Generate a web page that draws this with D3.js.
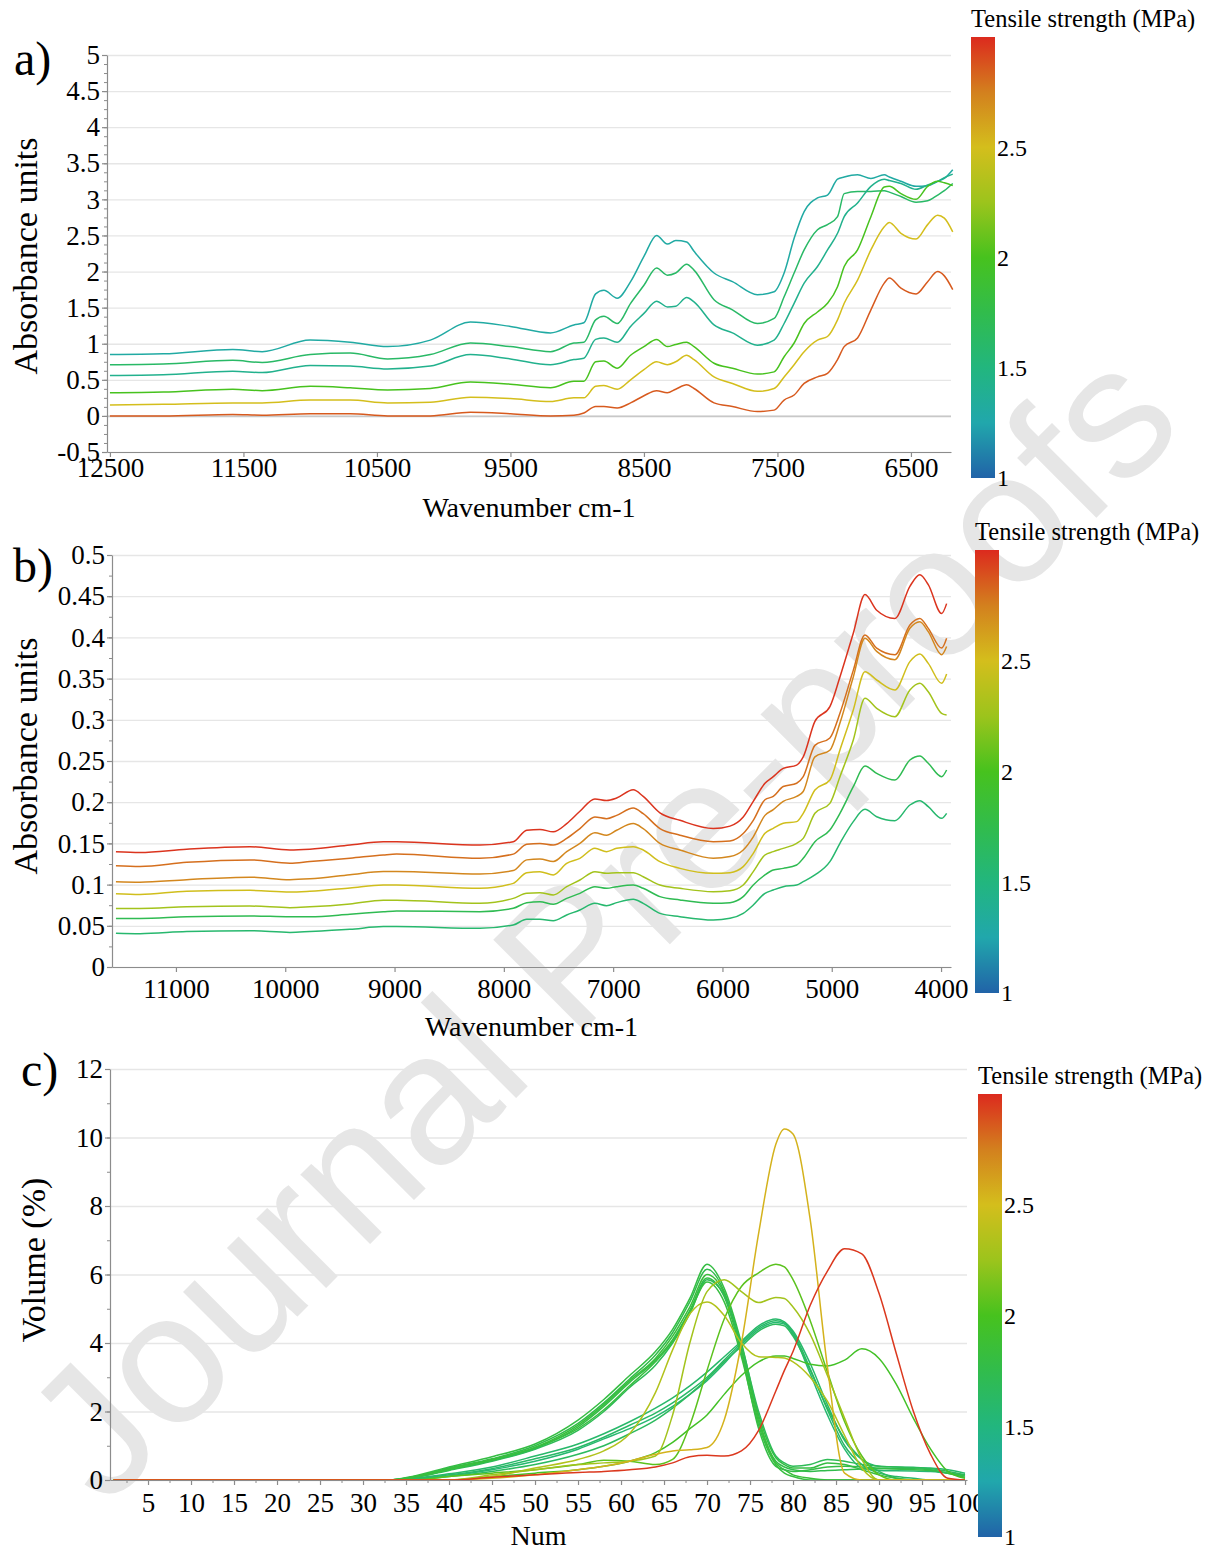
<!DOCTYPE html>
<html><head><meta charset="utf-8">
<script src="https://cdn.jsdelivr.net/npm/d3@7"></script>
<style>
body{margin:0;background:#fff}
svg{display:block}
text{font-family:"Liberation Serif","Times New Roman",serif;fill:#000}
</style>
</head><body>
<svg id="chart" width="1215" height="1550"></svg>
<script>
// ---------------- DATA ----------------
// Panel a) NIR spectra (wavenumber cm-1 vs absorbance units)
const wavenumberA = [12500,12100,11580,11360,11000,10700,10420,10100,9800,9500,
  9200,9025,8950,8862,8800,8700,8600,8500,8405,8325,8262,8180,8125,7975,7837,7650,7525,7450,7375,7300,
  7200,7125,7050,7000,6900,6800,6700,6662,6575,6462,6375,6300,6250,6187];
const tensileA = [1.3, 1.62, 1.42, 2.0, 2.5, 2.86];
const absA1 = [0.85,0.86,0.92,0.89,1.05,1.02,0.96,1.05,1.30,1.24,
  1.15,1.26,1.29,1.69,1.74,1.63,1.86,2.21,2.50,2.38,2.43,2.41,2.28,1.98,1.86,1.68,1.72,1.98,2.46,2.83,
  3.02,3.06,3.28,3.31,3.34,3.29,3.34,3.31,3.25,3.18,3.19,3.25,3.29,3.41];
const absA2 = [0.71,0.72,0.77,0.74,0.85,0.87,0.79,0.85,1.01,0.96,
  0.89,1.01,1.02,1.33,1.38,1.28,1.56,1.81,2.05,1.95,1.98,2.10,2.02,1.61,1.47,1.28,1.35,1.65,1.98,2.30,
  2.58,2.65,2.76,3.08,3.11,3.11,3.12,3.10,3.04,2.96,2.98,3.06,3.12,3.22];
const absA3 = [0.56,0.57,0.62,0.60,0.70,0.69,0.65,0.69,0.85,0.79,
  0.71,0.78,0.80,1.06,1.08,1.02,1.24,1.42,1.59,1.51,1.52,1.64,1.58,1.26,1.15,0.98,1.05,1.28,1.56,1.84,
  2.07,2.30,2.53,2.76,2.95,3.18,3.28,3.26,3.22,3.14,3.20,3.25,3.30,3.35];
const absA4 = [0.32,0.33,0.37,0.35,0.41,0.39,0.36,0.38,0.47,0.44,
  0.39,0.48,0.48,0.75,0.76,0.66,0.84,0.96,1.06,0.96,0.99,1.02,0.96,0.73,0.66,0.58,0.61,0.82,1.01,1.28,
  1.44,1.56,1.79,2.07,2.30,2.76,3.17,3.18,3.08,3.00,3.18,3.25,3.23,3.19];
const absA5 = [0.15,0.16,0.18,0.18,0.22,0.22,0.18,0.19,0.26,0.24,
  0.20,0.25,0.25,0.41,0.42,0.37,0.50,0.64,0.75,0.71,0.75,0.84,0.78,0.54,0.45,0.34,0.38,0.54,0.71,0.89,
  1.05,1.10,1.33,1.56,1.88,2.30,2.62,2.68,2.53,2.45,2.65,2.78,2.74,2.55];
const absA6 = [0.0,0.0,0.02,0.01,0.03,0.03,0.0,0.0,0.05,0.03,
  0.0,0.01,0.04,0.13,0.13,0.11,0.18,0.28,0.35,0.32,0.37,0.43,0.38,0.18,0.13,0.06,0.08,0.22,0.29,0.45,
  0.54,0.59,0.78,0.96,1.08,1.47,1.84,1.91,1.77,1.69,1.86,2.00,1.94,1.75];
const xTicksA = [12500,11500,10500,9500,8500,7500,6500];
const yTicksA = [-0.5,0,0.5,1,1.5,2,2.5,3,3.5,4,4.5,5];

// Panel b) NIR spectra
const wavenumberB = [11549,11329,10902,10323,9957,9774,9408,9103,8981,
  8219,7914,7791,7670,7548,7425,7304,7167,7060,6968,6816,6725,6572,6389,6084,5931,5810,5718,5611,5535,
  5444,5321,5261,5154,5017,4925,4803,4696,4589,4422,4285,4194,4117,3995,3949];
const tensileB = [2.97, 2.8, 2.72, 2.48, 2.28, 1.72, 1.58];
const absB1 = [0.140,0.139,0.143,0.146,0.142,0.143,0.148,0.152,0.152,
  0.148,0.152,0.166,0.167,0.164,0.174,0.189,0.204,0.202,0.205,0.215,0.207,0.187,0.178,0.168,0.171,0.182,0.201,0.223,0.231,
  0.241,0.245,0.255,0.298,0.316,0.352,0.405,0.452,0.433,0.423,0.462,0.476,0.464,0.429,0.441];
const absB2 = [0.123,0.122,0.127,0.130,0.126,0.128,0.132,0.136,0.137,
  0.132,0.137,0.149,0.150,0.148,0.156,0.168,0.182,0.180,0.184,0.193,0.186,0.168,0.160,0.152,0.153,0.162,0.178,0.203,0.207,
  0.219,0.223,0.231,0.269,0.278,0.308,0.360,0.403,0.387,0.379,0.415,0.423,0.411,0.387,0.399];
const absB3 = [0.1035,0.103,0.106,0.109,0.106,0.107,0.112,0.116,0.116,
  0.113,0.117,0.130,0.131,0.128,0.140,0.150,0.163,0.160,0.166,0.174,0.168,0.150,0.142,0.132,0.134,0.142,0.158,0.184,0.191,
  0.201,0.207,0.213,0.255,0.263,0.296,0.352,0.399,0.383,0.373,0.411,0.419,0.407,0.379,0.389];
const absB4 = [0.089,0.088,0.092,0.093,0.091,0.092,0.096,0.0995,0.0995,
  0.0955,0.1015,0.1145,0.1157,0.1117,0.1258,0.1319,0.1440,0.1400,0.1440,0.1460,0.1420,0.1278,0.1197,0.1137,0.1145,0.1218,0.1379,0.1622,0.1683,
  0.1744,0.1764,0.1865,0.2148,0.2269,0.2634,0.3119,0.3584,0.3483,0.3362,0.3706,0.3798,0.3685,0.3443,0.3556];
const absB5 = [0.071,0.071,0.073,0.074,0.072,0.073,0.0765,0.081,0.081,
  0.0773,0.0833,0.0894,0.0902,0.0874,0.0975,0.1056,0.1157,0.1137,0.1145,0.1145,0.1096,0.0995,0.0955,0.0914,0.0926,0.0995,0.1157,0.1359,0.1400,
  0.1440,0.1501,0.1561,0.1865,0.1986,0.2310,0.2755,0.3261,0.3139,0.3038,0.3362,0.3443,0.3341,0.3078,0.3058];
const absB6 = [0.059,0.059,0.061,0.062,0.061,0.061,0.064,0.067,0.068,
  0.0672,0.0712,0.0781,0.0793,0.0761,0.0833,0.0894,0.0975,0.0955,0.0975,0.0995,0.0955,0.0854,0.0813,0.0773,0.0781,0.0854,0.0995,0.1117,0.1177,
  0.1197,0.1238,0.1319,0.1521,0.1663,0.1865,0.2188,0.2439,0.2350,0.2269,0.2512,0.2561,0.2472,0.2310,0.2391];
const absB7 = [0.041,0.0405,0.043,0.044,0.042,0.043,0.0457,0.049,0.049,
  0.0469,0.0510,0.0578,0.0578,0.0562,0.0631,0.0692,0.0773,0.0744,0.0781,0.0821,0.0773,0.0651,0.0611,0.0570,0.0591,0.0651,0.0752,0.0894,0.0934,
  0.0975,0.0995,0.1036,0.1117,0.1278,0.1501,0.1764,0.1913,0.1824,0.1776,0.1966,0.2019,0.1946,0.1804,0.1865];
const xTicksB = [11000,10000,9000,8000,7000,6000,5000,4000];
const yTicksB = [0,0.05,0.1,0.15,0.2,0.25,0.3,0.35,0.4,0.45,0.5];

// Panel c) particle size distribution (Num vs Volume %)
const numC = [1,33,36,40,45,50,55,58,61,64,66,68,70,72,74,76,78,79,80,82,84,86,88,90,92,94,96,98,100];
const tensileC = [1.6,1.62,1.57,1.66, 1.8,1.75,1.85,1.78,1.7,1.82, 1.95,2.06,2.35,2.28,2.55,2.96];
const volB1 = [0,0,0.05,0.18,0.38,0.7,1.05,1.35,1.7,2.1,2.4,2.75,3.15,3.6,4.05,4.5,4.7,4.62,4.35,3.4,2.2,1.15,0.6,0.4,0.38,0.37,0.35,0.3,0.2];
const volB2 = [0,0,0.04,0.15,0.33,0.62,0.95,1.25,1.6,1.95,2.25,2.6,3.0,3.5,4.0,4.45,4.65,4.58,4.3,3.25,2.05,1.0,0.45,0.2,0.1,0.05,0,0,0];
const volB3 = [0,0,0.03,0.12,0.3,0.55,0.9,1.2,1.5,1.85,2.15,2.5,2.9,3.4,3.95,4.4,4.6,4.55,4.25,3.1,1.9,0.9,0.35,0.28,0.27,0.26,0.25,0.2,0.15];
const volB4 = [0,0,0.02,0.1,0.25,0.45,0.75,1.0,1.35,1.75,2.1,2.5,2.95,3.45,3.9,4.35,4.55,4.5,4.2,3.2,2.1,1.2,0.6,0.25,0.05,0,0,0,0];
const volA1 = [0,0,0.12,0.38,0.68,1.05,1.75,2.35,3.05,3.75,4.4,5.3,6.3,5.6,4.0,1.9,0.65,0.45,0.35,0.35,0.5,0.45,0.3,0.15,0.05,0,0,0,0];
const volA2 = [0,0,0.1,0.35,0.62,1.0,1.65,2.25,2.95,3.65,4.3,5.2,6.15,5.5,3.8,1.7,0.55,0.38,0.3,0.25,0.28,0.3,0.32,0.33,0.33,0.33,0.3,0.2,0.08];
const volA3 = [0,0,0.1,0.33,0.6,0.95,1.6,2.2,2.9,3.55,4.2,5.05,6.0,5.45,3.9,1.8,0.5,0.3,0.15,0.05,0,0,0,0,0,0,0,0,0];
const volA4 = [0,0,0.08,0.3,0.57,0.92,1.55,2.15,2.85,3.5,4.1,4.95,5.9,5.35,3.7,1.5,0.4,0.3,0.25,0.3,0.38,0.4,0.38,0.35,0.32,0.3,0.28,0.2,0.12];
const volA5 = [0,0,0.07,0.28,0.55,0.9,1.45,2.0,2.7,3.35,4.0,4.85,5.85,5.4,3.95,2.0,0.7,0.5,0.4,0.45,0.6,0.55,0.45,0.4,0.38,0.36,0.33,0.25,0.15];
const volA6 = [0,0,0.08,0.3,0.58,0.95,1.5,2.05,2.75,3.45,4.05,4.9,5.78,5.2,3.6,1.6,0.45,0.2,0.1,0,0,0,0,0,0,0,0,0,0];
const volG1 = [0,0,0,0,0.1,0.2,0.3,0.4,0.55,0.8,1.1,1.5,1.9,2.5,3.05,3.45,3.62,3.62,3.55,3.38,3.33,3.5,3.83,3.55,2.8,1.8,0.9,0.25,0.05];
const volG2 = [0,0,0,0.1,0.2,0.3,0.45,0.58,0.55,0.45,0.6,1.6,3.2,4.7,5.65,6.05,6.3,6.22,5.85,4.65,3.15,1.7,0.7,0.15,0,0,0,0,0];
const volYG1 = [0,0,0,0,0.1,0.35,0.6,0.85,1.35,2.55,3.8,4.85,5.2,4.8,4.0,3.6,3.58,3.56,3.45,3.0,2.3,1.3,0.35,0,0,0,0,0,0];
const volYG2 = [0,0,0,0,0.15,0.3,0.45,0.5,0.55,0.7,1.9,4.0,5.5,5.85,5.5,5.18,5.33,5.3,5.05,4.25,3.05,1.8,0.6,0,0,0,0,0,0];
const volY = [0,0,0,0,0.05,0.15,0.3,0.4,0.55,0.75,0.85,0.88,0.95,1.75,4.0,7.2,9.8,10.25,10.1,7.6,3.3,0.2,0,0,0,0,0,0,0];
const volR = [0,0,0,0,0.08,0.15,0.22,0.25,0.3,0.38,0.5,0.68,0.72,0.7,0.85,1.45,2.6,3.2,3.75,5.1,6.1,6.75,6.6,5.45,3.7,2.0,0.75,0.05,0];
const xTicksC = [5,10,15,20,25,30,35,40,45,50,55,60,65,70,75,80,85,90,95,100];
const yTicksC = [0,2,4,6,8,10,12];

// colour bar (Tensile strength, MPa)
const cbarTicks = [1,1.5,2,2.5];
const cbarStops = [1.0,1.25,1.5,1.75,2.0,2.25,2.5,2.75,3.0];
const cbarColors = ['#2163a8','#21a7ac','#22b67e','#31bc4c','#47c21e','#9cc41c','#d4be1c','#d3801e','#dc2a1e'];

// ---------------- DRAWING ----------------
const SERIF = '"Liberation Serif","Times New Roman",serif';
const svg = d3.select('#chart');
const color = d3.scaleLinear().domain(cbarStops).range(cbarColors).interpolate(d3.interpolateRgb);

// watermark
svg.append('text')
  .attr('transform','translate(646,968) rotate(-45)')
  .attr('text-anchor','middle')
  .attr('font-family','"Liberation Sans",Arial,sans-serif')
  .style('font-family','"Liberation Sans",Arial,sans-serif')
  .style('font-size','186px')
  .style('fill','#e6e6e6')
  .text('Journal Pre-proofs');

const defs = svg.append('defs');
const grad = defs.append('linearGradient').attr('id','cbarGrad')
  .attr('x1','0').attr('y1','1').attr('x2','0').attr('y2','0');
cbarStops.forEach((s,i)=>grad.append('stop').attr('offset',(s-1)/2).attr('stop-color',cbarColors[i]));

function styleAxis(sel, fs){
  sel.attr('font-family',SERIF).attr('font-size',fs);
  sel.select('.domain').attr('stroke','#8c8c8c').attr('stroke-width',1.2);
  sel.selectAll('.tick line').attr('stroke','#8c8c8c').attr('stroke-width',1.2);
  sel.selectAll('.tick text').attr('font-family',SERIF).style('font-family',SERIF)
    .style('font-size',fs+'px').attr('fill','#000');
}

function drawPanel(p){
  const g = svg.append('g');
  const x = d3.scaleLinear().domain(p.xDomain).range([p.left,p.right]);
  const y = d3.scaleLinear().domain(p.yDomain).range([p.bottom,p.top]);
  // grid
  g.append('g').attr('transform',`translate(${p.left},0)`)
    .call(d3.axisLeft(y).tickValues(p.yTicks).tickSize(-(p.right-p.left)).tickFormat(''))
    .call(s=>s.select('.domain').remove())
    .call(s=>s.selectAll('.tick line').attr('stroke','#e6e6e6').attr('stroke-width',1.3));
  if (p.zeroLine){
    g.append('g').attr('transform',`translate(${p.left},0)`)
      .call(d3.axisLeft(y).tickValues([0]).tickSize(-(p.right-p.left)).tickFormat(''))
      .call(s=>s.select('.domain').remove())
      .call(s=>s.selectAll('.tick line').attr('stroke','#c8c8c8').attr('stroke-width',1.6));
  }
  // curves
  const line = d3.line().x(d=>x(d[0])).y(d=>y(d[1])).curve(d3.curveMonotoneX);
  p.series.forEach(s=>{
    g.append('path').datum(d3.zip(p.xs, s.v))
      .attr('d',line).attr('fill','none')
      .attr('stroke',color(s.t)).attr('stroke-width',1.5).attr('stroke-linejoin','round');
  });
  // minor ticks
  if (p.yMinor) g.append('g').attr('transform',`translate(${p.left},0)`)
    .call(d3.axisLeft(y).tickValues(p.yMinor).tickSize(3).tickFormat(''))
    .call(s=>{s.select('.domain').remove(); s.selectAll('.tick line').attr('stroke','#8c8c8c');});
  if (p.xMinor) g.append('g').attr('transform',`translate(0,${p.bottom})`)
    .call(d3.axisBottom(x).tickValues(p.xMinor).tickSize(3).tickFormat(''))
    .call(s=>{s.select('.domain').remove(); s.selectAll('.tick line').attr('stroke','#8c8c8c');});
  // axes
  g.append('g').attr('transform',`translate(${p.left},0)`)
    .call(d3.axisLeft(y).tickValues(p.yTicks).tickSize(5).tickSizeOuter(0).tickPadding(2).tickFormat(d=>String(d)))
    .call(s=>styleAxis(s,27));
  g.append('g').attr('transform',`translate(0,${p.bottom})`)
    .call(d3.axisBottom(x).tickValues(p.xTicks).tickSize(5).tickSizeOuter(0).tickPadding(p.xPad).tickFormat(d=>String(d)))
    .call(s=>styleAxis(s,27));
  // titles
  g.append('text').attr('x',(p.left+p.right)/2).attr('y',p.xTitleY).attr('text-anchor','middle')
    .style('font-size','28px').text(p.xTitle);
  g.append('text').attr('transform',`translate(${p.yTitleX},${p.yTitleY}) rotate(-90)`).attr('text-anchor','middle')
    .style('font-size','34px').text(p.yTitle);
  g.append('text').attr('x',p.letterX).attr('y',p.letterY).style('font-size','48px').text(p.letter);
  // colour bar
  const cb = p.cbar;
  const cy = d3.scaleLinear().domain([1,3]).range([cb.bottom,cb.top]);
  g.append('rect').attr('x',cb.x).attr('y',cb.top).attr('width',24).attr('height',cb.bottom-cb.top)
    .attr('fill','url(#cbarGrad)');
  g.append('g').selectAll('text').data(cbarTicks).join('text')
    .attr('x',cb.x+26).attr('y',d=>cy(d)).attr('dy','0.35em')
    .style('font-size','24px').text(d=>String(d));
  g.append('text').attr('x',cb.x).attr('y',cb.top-10).style('font-size','24.5px').text('Tensile strength (MPa)');
}

drawPanel({
  left:107,right:951,top:55,bottom:452,
  xDomain:[12522,6200], yDomain:[-0.5,5],
  xs:wavenumberA,
  series:[absA1,absA2,absA3,absA4,absA5,absA6].map((v,i)=>({v,t:tensileA[i]})),
  xTicks:xTicksA, yTicks:yTicksA,
  yMinor:d3.range(-0.5,5.001,0.125), xMinor:null, zeroLine:true,
  xPad:1, xTitle:'Wavenumber cm-1', xTitleY:517,
  yTitle:'Absorbance units', yTitleX:37, yTitleY:256,
  letter:'a)', letterX:14, letterY:75,
  cbar:{x:971, top:37, bottom:478}
});

drawPanel({
  left:112,right:951,top:555,bottom:967,
  xDomain:[11585,3909], yDomain:[0,0.5],
  xs:wavenumberB,
  series:[absB1,absB2,absB3,absB4,absB5,absB6,absB7].map((v,i)=>({v,t:tensileB[i]})),
  xTicks:xTicksB, yTicks:yTicksB,
  yMinor:d3.range(0,0.5001,0.025), xMinor:null, zeroLine:false,
  xPad:7, xTitle:'Wavenumber cm-1', xTitleY:1036,
  yTitle:'Absorbance units', yTitleX:37, yTitleY:756,
  letter:'b)', letterX:13, letterY:582,
  cbar:{x:975, top:550, bottom:993}
});

drawPanel({
  left:110,right:967,top:1069,bottom:1480,
  xDomain:[0.58,100.23], yDomain:[0,12],
  xs:numC,
  series:[volB1,volB2,volB3,volB4,volA1,volA2,volA3,volA4,volA5,volA6,volG1,volG2,volYG1,volYG2,volY,volR].map((v,i)=>({v,t:tensileC[i]})),
  xTicks:xTicksC, yTicks:yTicksC,
  yMinor:d3.range(0,12.001,1), xMinor:d3.range(2.5,100.01,2.5), zeroLine:false,
  xPad:8, xTitle:'Num', xTitleY:1545,
  yTitle:'Volume (%)', yTitleX:45, yTitleY:1260,
  letter:'c)', letterX:21, letterY:1086,
  cbar:{x:978, top:1094, bottom:1537}
});
</script>
</body></html>
